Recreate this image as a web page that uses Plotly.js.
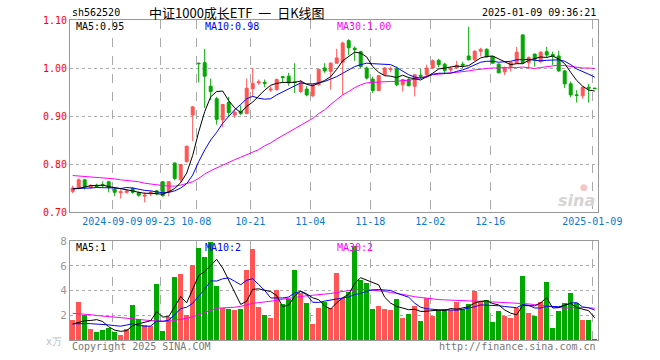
<!DOCTYPE html>
<html><head><meta charset="utf-8">
<script src="https://cdn.plot.ly/plotly-3.0.1.min.js"></script>
<style>html,body{margin:0;padding:0;background:#fff}#c{width:660px;height:360px}</style>
</head><body><div id="c"></div>
<script>
const dates = ['2024-08-29','2024-08-30','2024-09-02','2024-09-03','2024-09-04','2024-09-05','2024-09-06','2024-09-09','2024-09-10','2024-09-11','2024-09-12','2024-09-13','2024-09-18','2024-09-19','2024-09-20','2024-09-23','2024-09-24','2024-09-25','2024-09-26','2024-09-27','2024-09-30','2024-10-08','2024-10-09','2024-10-10','2024-10-11','2024-10-14','2024-10-15','2024-10-16','2024-10-17','2024-10-18','2024-10-21','2024-10-22','2024-10-23','2024-10-24','2024-10-25','2024-10-28','2024-10-29','2024-10-30','2024-10-31','2024-11-01','2024-11-04','2024-11-05','2024-11-06','2024-11-07','2024-11-08','2024-11-11','2024-11-12','2024-11-13','2024-11-14','2024-11-15','2024-11-18','2024-11-19','2024-11-20','2024-11-21','2024-11-22','2024-11-25','2024-11-26','2024-11-27','2024-11-28','2024-11-29','2024-12-02','2024-12-03','2024-12-04','2024-12-05','2024-12-06','2024-12-09','2024-12-10','2024-12-11','2024-12-12','2024-12-13','2024-12-16','2024-12-17','2024-12-18','2024-12-19','2024-12-20','2024-12-23','2024-12-24','2024-12-25','2024-12-26','2024-12-27','2024-12-30','2024-12-31','2025-01-02','2025-01-03','2025-01-06','2025-01-07','2025-01-08','2025-01-09'];

const open  = [0.743,0.749,0.767,0.751,0.756,0.757,0.763,0.747,0.740,0.741,0.749,0.740,0.733,0.738,0.744,0.763,0.741,0.802,0.767,0.805,0.902,1.010,1.011,0.962,0.936,0.892,0.928,0.902,0.910,0.905,0.957,0.969,0.970,0.954,0.955,0.982,0.983,0.971,0.951,0.956,0.942,0.965,1.000,0.993,1.010,1.012,1.057,1.041,1.034,1.000,0.977,0.953,0.986,0.997,0.998,0.965,0.976,0.962,0.985,0.986,1.000,1.016,1.008,0.996,1.000,1.008,1.025,1.017,1.035,1.039,1.024,1.008,0.992,1.003,1.010,1.069,1.011,1.029,1.013,1.034,1.028,1.025,0.994,0.967,0.944,0.942,0.960,0.958];
const high  = [0.755,0.770,0.768,0.758,0.759,0.764,0.765,0.750,0.747,0.747,0.752,0.743,0.741,0.745,0.746,0.764,0.764,0.803,0.800,0.838,0.921,1.011,1.040,0.978,0.940,0.925,0.940,0.915,0.922,0.978,1.000,0.976,0.976,0.962,0.978,0.983,0.990,1.010,0.975,0.962,0.966,0.998,1.010,1.012,1.040,1.055,1.060,1.045,1.036,1.003,0.982,0.985,1.002,1.003,1.003,0.976,0.980,0.986,0.998,1.007,1.018,1.019,1.011,1.003,1.015,1.013,1.086,1.037,1.042,1.041,1.025,1.010,1.003,1.013,1.044,1.070,1.024,1.030,1.035,1.044,1.034,1.036,0.996,0.972,0.954,0.961,0.967,0.959];
const low   = [0.739,0.747,0.747,0.749,0.750,0.752,0.741,0.733,0.728,0.738,0.738,0.732,0.720,0.733,0.735,0.732,0.733,0.766,0.762,0.803,0.848,0.970,0.917,0.933,0.882,0.877,0.898,0.896,0.902,0.904,0.940,0.965,0.960,0.950,0.953,0.969,0.963,0.948,0.948,0.941,0.940,0.963,0.990,0.955,1.010,0.944,1.027,1.015,1.000,0.976,0.948,0.952,0.984,0.991,0.962,0.951,0.962,0.941,0.977,0.984,0.998,1.002,0.987,0.990,0.998,1.000,1.016,1.015,1.024,1.022,1.009,0.989,0.985,0.993,1.008,1.009,0.999,1.003,1.011,1.023,1.006,0.992,0.958,0.939,0.928,0.936,0.928,0.956];
const close = [0.750,0.767,0.752,0.755,0.753,0.755,0.751,0.741,0.742,0.744,0.741,0.735,0.735,0.741,0.738,0.734,0.763,0.770,0.799,0.837,0.919,1.009,0.983,0.951,0.893,0.924,0.907,0.908,0.905,0.958,0.968,0.971,0.968,0.956,0.976,0.980,0.969,0.970,0.969,0.944,0.965,0.997,0.994,1.010,1.021,1.052,1.042,1.038,1.003,0.979,0.953,0.984,1.000,0.998,0.965,0.976,0.963,0.986,0.983,1.000,1.015,1.007,0.995,0.999,1.006,1.006,1.017,1.035,1.039,1.023,1.010,0.990,1.001,1.012,1.033,1.010,1.022,1.018,1.033,1.027,1.024,0.994,0.967,0.944,0.943,0.960,0.958,0.957];

const ma5  = [0.748,0.749,0.752,0.755,0.755,0.756,0.753,0.751,0.748,0.747,0.744,0.741,0.739,0.739,0.738,0.737,0.742,0.749,0.761,0.781,0.818,0.867,0.909,0.940,0.951,0.952,0.932,0.917,0.907,0.920,0.929,0.942,0.954,0.964,0.968,0.970,0.970,0.970,0.973,0.966,0.963,0.969,0.974,0.982,0.997,1.015,1.024,1.033,1.031,1.023,1.003,0.991,0.984,0.983,0.980,0.985,0.980,0.978,0.975,0.982,0.989,0.998,1.000,1.003,1.004,1.003,1.005,1.013,1.021,1.024,1.025,1.019,1.013,1.007,1.009,1.009,1.016,1.019,1.023,1.022,1.025,1.019,1.009,0.991,0.974,0.962,0.954,0.952];
const ma10 = [0.749,0.749,0.750,0.750,0.751,0.751,0.751,0.750,0.749,0.751,0.750,0.747,0.745,0.744,0.742,0.740,0.741,0.744,0.750,0.759,0.777,0.805,0.829,0.850,0.866,0.885,0.899,0.913,0.924,0.936,0.941,0.937,0.935,0.936,0.944,0.950,0.956,0.962,0.969,0.967,0.967,0.969,0.972,0.977,0.982,0.989,0.996,1.003,1.007,1.010,1.009,1.008,1.008,1.007,1.001,0.994,0.986,0.981,0.979,0.981,0.987,0.989,0.989,0.989,0.993,0.996,1.001,1.006,1.012,1.014,1.014,1.012,1.013,1.014,1.017,1.017,1.018,1.016,1.015,1.016,1.017,1.017,1.014,1.007,0.998,0.993,0.987,0.981];
const ma30 = [0.776,0.775,0.775,0.774,0.773,0.772,0.771,0.769,0.767,0.766,0.765,0.763,0.760,0.758,0.756,0.755,0.754,0.754,0.756,0.759,0.763,0.770,0.779,0.786,0.792,0.797,0.803,0.809,0.814,0.819,0.824,0.830,0.838,0.844,0.852,0.859,0.867,0.874,0.881,0.888,0.895,0.905,0.913,0.924,0.934,0.944,0.951,0.959,0.965,0.969,0.970,0.971,0.972,0.972,0.972,0.974,0.974,0.977,0.979,0.983,0.986,0.987,0.989,0.990,0.991,0.992,0.994,0.996,0.998,0.999,1.000,1.000,1.000,1.001,1.001,1.002,1.000,0.999,1.001,1.003,1.005,1.006,1.005,1.003,1.001,1.000,1.000,0.999];

const volume = [1.62,3.08,2.03,0.89,0.65,0.81,0.97,0.68,0.41,0.92,2.84,1.70,1.19,1.16,4.54,0.73,1.84,5.11,5.35,2.03,6.08,7.46,6.73,7.95,4.38,2.57,2.51,2.43,2.51,5.68,7.38,2.68,2.03,1.81,4.05,2.92,3.30,5.68,3.78,2.97,1.30,2.59,3.11,2.57,5.46,3.38,3.92,7.57,4.86,4.59,2.54,2.76,2.54,2.46,3.32,1.81,2.11,2.76,1.57,3.38,1.97,2.43,2.54,2.43,3.08,2.54,2.92,4.00,3.11,3.27,1.46,2.35,1.97,1.81,2.62,5.19,2.19,1.97,3.08,4.73,0.97,2.35,3.00,3.81,2.97,1.62,1.62,0.08];
const vma5  = [1.30,1.45,1.55,1.58,1.65,1.49,1.07,0.80,0.70,0.76,1.16,1.31,1.41,1.56,2.29,1.86,1.89,2.68,3.51,3.01,4.08,5.21,5.53,6.05,6.52,5.82,4.83,3.97,2.88,3.14,4.10,4.14,4.06,3.92,3.59,2.70,2.82,3.55,3.95,3.73,3.41,3.26,2.75,2.51,3.01,3.42,3.69,4.58,5.04,4.86,4.70,4.46,3.46,2.98,2.72,2.58,2.45,2.49,2.31,2.33,2.36,2.42,2.38,2.55,2.49,2.60,2.70,2.99,3.13,3.17,2.95,2.84,2.43,2.17,2.04,2.79,2.76,2.76,3.01,3.43,2.59,2.62,2.83,2.97,2.62,2.52,2.37,1.79];
const vma10 = [1.30,1.33,1.33,1.32,1.30,1.27,1.22,1.16,1.12,1.21,1.33,1.19,1.11,1.13,1.52,1.51,1.60,2.04,2.54,2.65,2.97,3.55,4.10,4.78,4.77,4.95,5.02,4.75,4.47,4.83,4.96,4.48,4.01,3.40,3.37,3.40,3.48,3.80,3.93,3.66,3.05,3.04,3.15,3.23,3.37,3.41,3.48,3.67,3.77,3.94,4.06,4.08,4.02,4.01,3.79,3.64,3.46,2.98,2.65,2.53,2.47,2.44,2.44,2.43,2.41,2.48,2.56,2.69,2.84,2.83,2.78,2.77,2.71,2.65,2.61,2.87,2.80,2.59,2.59,2.74,2.69,2.69,2.79,2.99,3.03,2.67,2.61,2.42];
const vma30 = [2.16,2.14,2.11,2.05,1.98,1.94,1.90,1.88,1.84,1.78,1.72,1.66,1.60,1.57,1.55,1.52,1.50,1.60,1.66,1.75,1.88,2.03,2.20,2.40,2.57,2.60,2.62,2.65,2.72,2.85,2.97,3.02,3.06,3.12,3.20,3.30,3.38,3.47,3.55,3.58,3.62,3.66,3.70,3.76,3.85,3.95,4.00,4.05,4.10,4.08,4.05,4.00,3.93,3.85,3.78,3.70,3.60,3.50,3.43,3.37,3.30,3.27,3.25,3.22,3.19,3.16,3.14,3.12,3.10,3.10,3.08,3.06,3.02,2.98,2.96,2.94,2.92,2.86,2.80,2.72,2.68,2.62,2.58,2.60,2.63,2.65,2.60,2.57];

const tickDates  = ['2024-09-09','2024-09-23','2024-10-08','2024-10-21','2024-11-04','2024-11-18','2024-12-02','2024-12-16','2025-01-09'];
const tickLabels = ['2024-09-09','09-23','10-08','10-21','11-04','11-18','12-02','12-16','2025-01-09'];
const priceTicks = [0.70,0.80,0.90,1.00,1.10];
const volTicks = [2,4,6,8];

const RED = '#ff5555', GREEN = '#00a800';
const x = dates.map((d,i)=>i);
const volColors = close.map((c,i)=> c >= open[i] ? RED : GREEN);
const tickvals = tickDates.map(d => dates.indexOf(d) - 0.4);

const traces = [
  {type:'candlestick', x:x, open:open, high:high, low:low, close:close, xaxis:'x', yaxis:'y',
   increasing:{line:{color:RED,width:1}, fillcolor:RED},
   decreasing:{line:{color:GREEN,width:1}, fillcolor:GREEN},
   whiskerwidth:0, hoverinfo:'skip'},
  {type:'scatter', mode:'lines', x:x, y:ma30, line:{color:'#ff00ff',width:1}, xaxis:'x', yaxis:'y', hoverinfo:'skip'},
  {type:'scatter', mode:'lines', x:x, y:ma10, line:{color:'#0000ff',width:1}, xaxis:'x', yaxis:'y', hoverinfo:'skip'},
  {type:'scatter', mode:'lines', x:x, y:ma5, line:{color:'#000000',width:1}, xaxis:'x', yaxis:'y', hoverinfo:'skip'},
  {type:'bar', x:x, y:volume, marker:{color:volColors, line:{width:0}}, width:0.78, xaxis:'x2', yaxis:'y2', hoverinfo:'skip'},
  {type:'scatter', mode:'lines', x:x, y:vma30, line:{color:'#ff00ff',width:1}, xaxis:'x2', yaxis:'y2', hoverinfo:'skip'},
  {type:'scatter', mode:'lines', x:x, y:vma10, line:{color:'#0000ff',width:1}, xaxis:'x2', yaxis:'y2', hoverinfo:'skip'},
  {type:'scatter', mode:'lines', x:x, y:vma5, line:{color:'#000000',width:1}, xaxis:'x2', yaxis:'y2', hoverinfo:'skip'}
];

const L = 70, R = 598, T = 20, B = 340;
const px = v => (v - L) / (R - L);
const py = v => (B - v) / (B - T);
const MONO = 'DejaVu Sans Mono, monospace';
function ann(text, xp, yp, anchor, color, size, family, extra) {
  return Object.assign({text:text, xref:'paper', yref:'paper', x:px(xp), y:py(yp), xanchor:anchor, yanchor:'middle',
    showarrow:false, font:{family:family||MONO, size:size||10, color:color||'#000'}}, extra||{});
}

const annotations = [
  ann('sh562520', 70, 13, 'left', '#000', 10),
  ann('中证1000成长ETF\u00a0\u00a0一\u00a0\u00a0日K线图', 237, 13, 'center', '#000', 13, 'Noto Sans CJK SC'),
  ann('2025-01-09 09:36:21', 598, 13, 'right', '#000', 10),
  ann('MA5:0.95', 74, 26, 'left', '#000', 10),
  ann('MA10:0.98', 203, 26, 'left', '#0000ff', 10),
  ann('MA30:1.00', 335, 26, 'left', '#ff00ff', 10),
  ann('MA5:1', 74, 247, 'left', '#000', 10),
  ann('MA10:2', 203, 247, 'left', '#0000ff', 10),
  ann('MA30:2', 335, 247, 'left', '#ff00ff', 10),
  ann('x万', 64, 341, 'right', '#bbbbbb', 10),
  ann('Copyright 2025 SINA.COM', 70, 346, 'left', '#777', 10),
  ann('http://finance.sina.com.cn', 598, 346, 'right', '#777', 10),
  ann('sina', 597, 200, 'right', '#d4d4d4', 16, 'DejaVu Sans', {font:{family:'DejaVu Sans', size:16, color:'#d4d4d4', weight:'bold', style:'italic'}}),
  ann('●', 584, 187, 'center', '#f6c4c4', 9, 'DejaVu Sans')
];

const common = {showline:true, mirror:true, linecolor:'#999', linewidth:1, ticks:'', zeroline:false, fixedrange:true};
const layout = {
  width:660, height:360, margin:{l:L, r:660-R, t:T, b:360-B, pad:0},
  paper_bgcolor:'#fff', plot_bgcolor:'#fff', showlegend:false, bargap:0,
  font:{family:MONO, size:10, color:'#000'},
  xaxis:Object.assign({}, common, {domain:[0,1], anchor:'y', range:[-0.45, 87.55], rangeslider:{visible:false},
    tickmode:'array', tickvals:tickvals, ticktext:tickLabels, tickfont:{family:MONO, size:10, color:'#0a78d2'},
    showgrid:true, gridcolor:'#aaaaaa', griddash:'dash', gridwidth:1}),
  xaxis2:Object.assign({}, common, {domain:[0,1], anchor:'y2', range:[-0.45, 87.55], matches:'x',
    tickmode:'array', tickvals:tickvals, showticklabels:false,
    showgrid:true, gridcolor:'#aaaaaa', griddash:'dash', gridwidth:1}),
  yaxis:Object.assign({}, common, {domain:[0.4,1], anchor:'x', range:[0.70,1.10], tickmode:'array',
    tickvals:priceTicks, ticktext:priceTicks.map(v=>v.toFixed(2)), tickfont:{family:MONO, size:10, color:'#ff0000'},
    showgrid:true, gridcolor:'#aaaaaa', griddash:'dot', gridwidth:1}),
  yaxis2:Object.assign({}, common, {domain:[0,0.309], anchor:'x2', range:[0,8], tickmode:'array',
    tickvals:volTicks, ticktext:volTicks.map(String), tickfont:{family:MONO, size:11, color:'#999'},
    showgrid:true, gridcolor:'#aaaaaa', griddash:'dot', gridwidth:1}),
  annotations:annotations
};

Plotly.newPlot('c', traces, layout, {staticPlot:true, displayModeBar:false});
</script>
</body></html>
